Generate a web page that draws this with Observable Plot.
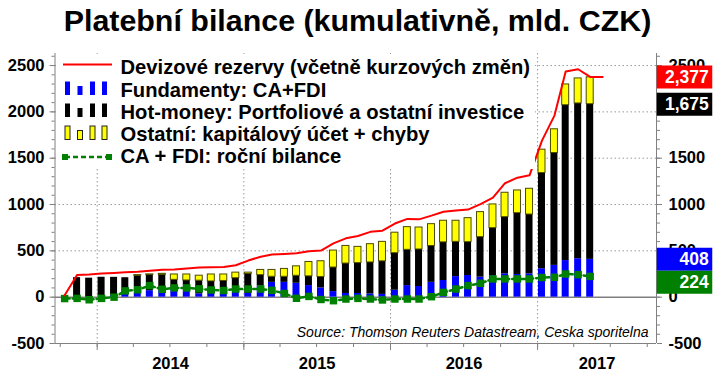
<!DOCTYPE html>
<html><head><meta charset="utf-8">
<script src="https://cdn.jsdelivr.net/npm/d3@7"></script>
<script src="https://cdn.jsdelivr.net/npm/@observablehq/plot@0.6"></script>
<style>
body{margin:0;background:#fff;}
#wrap{position:relative;width:715px;height:375px;overflow:hidden;font-family:"Liberation Sans",Arial,sans-serif;}
#wrap > svg{position:absolute;left:0;top:0;}
#title{position:absolute;left:0;top:0;width:715px;height:41px;line-height:41px;text-align:center;font-weight:bold;font-size:30.4px;white-space:nowrap;}
</style></head><body><div id="wrap"></div>
<script>
// ---- data (mld. CZK, cumulative) ----
const months = ["2013-10","2013-11","2013-12",
  "2014-01","2014-02","2014-03","2014-04","2014-05","2014-06","2014-07","2014-08","2014-09","2014-10","2014-11","2014-12",
  "2015-01","2015-02","2015-03","2015-04","2015-05","2015-06","2015-07","2015-08","2015-09","2015-10","2015-11","2015-12",
  "2016-01","2016-02","2016-03","2016-04","2016-05","2016-06","2016-07","2016-08","2016-09","2016-10","2016-11","2016-12",
  "2017-01","2017-02","2017-03","2017-04","2017-05","2017-06"];
// Fundamenty: CA+FDI
const fundamenty = [null,0,0,
  0,20,40,60,70,70,72,80,36,50,60,65,
  40,120,160,160,150,125,100,60,40,40,35,30,
  75,125,115,160,180,222,234,216,234,252,245,252,
  307,343,395,415,408,null];
// Hot-money: Portfoliove a ostatni investice
const hotMoney = [null,211,205,
  215,194,170,172,168,170,115,100,142,120,115,140,
  210,118,60,60,81,100,118,260,323,328,340,357,
  400,386,400,392,412,375,360,432,511,612,662,640,
  1033,1213,1677,1676,1675,null];
// Ostatni: kapitalovy ucet + chyby
const ostatni = [null,0,0,
  0,0,0,6,8,12,58,65,54,75,70,60,
  15,56,74,85,102,155,170,183,190,175,197,210,
  221,245,237,236,233,228,259,270,256,263,245,278,
  252,256,224,270,290,null];
// Devizove rezervy (vcetne kurzovych zmen)
const rezervy = [20,240,245,
  255,262,268,275,285,295,300,310,320,323,325,345,
  395,437,460,467,474,496,503,580,635,660,705,718,
  795,845,840,880,922,935,945,1005,1075,1230,1290,1315,
  1690,1960,2435,2460,2377,2377];
// CA + FDI: rocni bilance
const rocniBilance = [-15,-13,-28,
  -13,0,68,80,125,85,100,100,90,78,72,88,
  88,88,74,40,-12,8,-25,-38,-20,-13,-20,-30,
  -20,-20,-20,5,52,88,125,150,197,197,197,197,
  212,215,250,243,224,null];

const yearLabels = ["2014","2015","2016","2017"];
const leftTicks = [-500, 0, 500, 1000, 1500, 2000, 2500];
const rightTicks = [-500, 0, 500, 1000, 1500, 2500];   // 2000 sits fully under the black value tag
const seriesNames = ["Devizové rezervy (včetně kurzových změn)","Fundamenty: CA+FDI","Hot-money: Portfoliové a ostatní investice","Ostatní: kapitálový účet + chyby","CA + FDI: roční bilance"];
const titleText = "Platební bilance (kumulativně, mld. CZK)";
const sourceText = "Source: Thomson Reuters Datastream, Ceska sporitelna";

const C = {red:"#ff0000", blue:"#0000ff", black:"#000000", yellow:"#ffff00", green:"#008000", grid:"#9a9a9a", axis:"#808080"};

// ---- derived tables ----
const parse = s => { const [y,m] = s.split("-").map(Number); return new Date(Date.UTC(y, m-1, 12)); };
const rows = months.map((m,i) => ({date: parse(m), blue: fundamenty[i], black: hotMoney[i], yellow: ostatni[i], res: rezervy[i], ca: rocniBilance[i]}));
const half = 8.7 * 864e5;
const barRows = rows.filter(r => r.blue != null).map(r => ({
  x1: new Date(+r.date - half), x2: new Date(+r.date + half),
  b0: 0, b1: r.blue, k0: r.blue, k1: r.blue + r.black, y0: r.blue + r.black, y1: r.blue + r.black + r.yellow
}));
const resRows = rows.filter(r => r.res != null);
const caRows = rows.filter(r => r.ca != null);

const x0 = new Date(Date.UTC(2013, 8, 18)), x1 = new Date(Date.UTC(2017, 9, 24));
const yearStarts = yearLabels.map(y => new Date(Date.UTC(+y, 0, 1)));
const yearMids = yearLabels.map(y => {
  const a = Math.max(+x0, Date.UTC(+y,0,1)), b = Math.min(+x1, Date.UTC(+y+1,0,1));
  return new Date((a+b)/2);
});
const quarters = d3.utcMonth.every(3).range(x0, x1);
const minorY = d3.range(-500, 2601, 100);

// value tags at the right
const lastRow = rows.filter(r => r.blue != null).pop();
const tagH = 23;              // px
const unitsPerPx = (2630 - (-500)) / (343 - 53);
const blueTagY = lastRow.blue;
const greenTagY = Math.min(lastRow.ca, blueTagY - tagH * unitsPerPx);
const tags = [
  {v: lastRow.res, y: lastRow.res, fill: C.red},
  {v: lastRow.black, y: lastRow.blue + lastRow.black, fill: C.black},
  {v: lastRow.blue, y: blueTagY, fill: C.blue},
  {v: lastRow.ca, y: greenTagY, fill: C.green}
];
const tagX1 = d3.utcDay.offset(x1, 2), tagX2 = d3.utcDay.offset(x1, 140);
const fmt = d3.format(",");
const plain = d => String(d);

const plot = Plot.plot({
  width: 715, height: 375,
  marginTop: 53, marginBottom: 32, marginLeft: 54.5, marginRight: 59,
  style: "font-family:'Liberation Sans',Arial,sans-serif;font-weight:bold;font-size:16.5px;background:white;color:black;overflow:visible;",
  x: {type: "utc", domain: [x0, x1], label: null},
  y: {domain: [-500, 2630], label: null},
  color: {type: "identity"},
  marks: [
    Plot.gridY([500,1000,1500,2000,2500], {stroke: C.grid, strokeOpacity: 1, strokeDasharray: "1.5,2.5"}),
    Plot.gridX(yearStarts, {stroke: C.grid, strokeOpacity: 1, strokeDasharray: "1.5,2.5"}),
    Plot.ruleY([0], {stroke: C.axis, strokeWidth: 1.5}),
    Plot.rect(barRows, {x1: "x1", x2: "x2", y1: "b0", y2: "b1", fill: C.blue}),
    Plot.rect(barRows, {x1: "x1", x2: "x2", y1: "k0", y2: "k1", fill: C.black}),
    Plot.rect(barRows.filter(d => d.y1 > d.y0), {x1: "x1", x2: "x2", y1: "y0", y2: "y1", fill: C.yellow, stroke: "#4a4a00", strokeWidth: 1}),
    Plot.line(caRows, {x: "date", y: "ca", stroke: C.green, strokeWidth: 2.5, strokeDasharray: "5,3"}),
    Plot.dot(caRows, {x: "date", y: "ca", symbol: "square", r: 4.2, fill: C.green, stroke: "none"}),
    Plot.line(resRows, {x: "date", y: "res", stroke: C.red, strokeWidth: 2}),
    // frame lines
    Plot.ruleX([x0], {y1: -500, y2: 2630, stroke: C.axis}),
    Plot.ruleX([x1], {y1: -500, y2: 2630, stroke: C.axis}),
    Plot.ruleY([-500], {stroke: C.axis}),
    // left axis
    Plot.axisY(minorY, {tickSize: 3, fill: "none", stroke: C.axis, label: null}),
    Plot.axisY(leftTicks, {tickSize: 5, fill: "none", stroke: C.axis, label: null}),
    Plot.axisY(leftTicks, {tickSize: 0, tickPadding: 10.5, tickFormat: plain, label: null, fill: "black"}),
    // right axis
    Plot.axisY(minorY, {anchor: "right", tickSize: 3, fill: "none", stroke: C.axis, label: null}),
    Plot.axisY(leftTicks, {anchor: "right", tickSize: 5, fill: "none", stroke: C.axis, label: null}),
    Plot.axisY(rightTicks, {anchor: "right", tickSize: 0, tickPadding: 12, textAnchor: "start", tickFormat: plain, label: null, fill: "black"}),
    // bottom axis
    Plot.axisX(quarters, {tickSize: 4, fill: "none", stroke: C.axis, label: null}),
    Plot.axisX(yearStarts, {tickSize: 7, fill: "none", stroke: C.axis, label: null}),
    Plot.axisX(yearMids, {tickSize: 0, tickPadding: 14, tickFormat: d3.utcFormat("%Y"), label: null, fill: "black"}),
    // source
    Plot.text([sourceText], {frameAnchor: "bottom-right", lineAnchor: "bottom", dx: -8, dy: -7, fontWeight: "normal", fontStyle: "italic", fontSize: 14, fill: "black"}),
    // value tags
    Plot.ruleY(tags, {y: "y", x1: () => tagX1, x2: () => tagX2, stroke: d => d.fill, strokeWidth: tagH}),
    Plot.text(tags, {x: () => tagX2, y: "y", text: d => fmt(d.v), textAnchor: "end", dx: -4, fill: "white", fontSize: 17.5, fontWeight: "bold"})
  ]
});

const wrap = document.getElementById("wrap");
wrap.appendChild(plot);

// legend overlay
const lg = d3.create("svg").attr("width", 715).attr("height", 375)
  .style("position","absolute").style("left","0").style("top","0")
  .attr("font-family", "'Liberation Sans',Arial,sans-serif").attr("font-weight","bold").attr("font-size", 20.2);
lg.append("rect").attr("x", 58).attr("y", 54).attr("width", 477).attr("height", 115).attr("fill", "white");
const rowY = [74, 96.5, 118.5, 141, 163];
lg.append("line").attr("x1", 63).attr("x2", 112).attr("y1", 64.5).attr("y2", 64.5).attr("stroke", C.red).attr("stroke-width", 2);
const iconX = [65, 77.5, 90, 102];
[[C.blue, 81.5, null],[C.black, 103.5, null],[C.yellow, 126, "#222"]].forEach(([fill, top, stroke]) => {
  iconX.forEach((x, j) => {
    const t = j === 1 ? top + 4.5 : top;
    lg.append("rect").attr("x", x).attr("y", t).attr("width", 5).attr("height", top + 13.5 - t)
      .attr("fill", fill).attr("stroke", stroke || "none").attr("stroke-width", stroke ? 1 : 0);
  });
});
lg.append("line").attr("x1", 65).attr("x2", 109).attr("y1", 157).attr("y2", 157).attr("stroke", C.green).attr("stroke-width", 2.5).attr("stroke-dasharray", "5,3");
[62, 106].forEach(x => lg.append("rect").attr("x", x).attr("y", 154).attr("width", 6).attr("height", 6).attr("fill", C.green));
seriesNames.forEach((s, i) => lg.append("text").attr("x", 120.5).attr("y", rowY[i]).text(s));
wrap.appendChild(lg.node());

const t = document.createElement("div");
t.id = "title"; t.textContent = titleText;
wrap.appendChild(t);
</script>
</body></html>
